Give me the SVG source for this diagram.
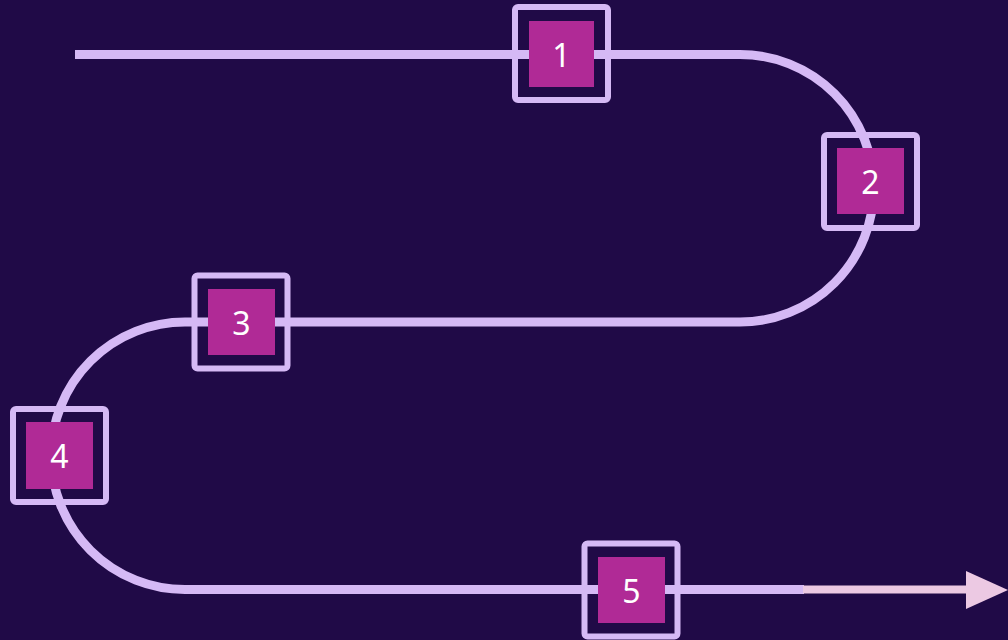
<svg xmlns="http://www.w3.org/2000/svg" width="1008" height="640" viewBox="0 0 1008 640">
<style>
.frame{fill:none;stroke:#d5b9f5;stroke-width:6;}
.sq{fill:#b02a96;}
.lbl{fill:#ffffff;font-family:"Noto Sans","DejaVu Sans",sans-serif;font-size:32px;text-anchor:middle;dominant-baseline:central;}
.track{fill:none;stroke:#d5b9f5;stroke-width:9;}
.tail{fill:none;stroke:#ecc9e3;stroke-width:8;}
</style>
<rect width="1008" height="640" fill="#200a47"/>
<g id="connectors">
<path class="track" d="M75,54.5 H740 A133.75,133.75 0 0 1 740,322 H185 A133.75,133.75 0 0 0 185,589.5 H804"/>
<path class="tail" d="M803,589.5 H968"/>
<polygon points="966,571 1008,590 966,609" fill="#ecc9e3"/>
</g>
<g id="node1">
<rect class="frame" x="515" y="7" width="93" height="93" rx="3"/>
<rect class="sq" x="529" y="21" width="65" height="66"/>
<text class="lbl" x="561.5" y="54">1</text>
</g>
<g id="node2">
<rect class="frame" x="824" y="135" width="93" height="93" rx="3"/>
<rect class="sq" x="837" y="148" width="67" height="66"/>
<text class="lbl" x="870.5" y="181">2</text>
</g>
<g id="node3">
<rect class="frame" x="194.5" y="275.5" width="93" height="93" rx="3"/>
<rect class="sq" x="208" y="289" width="67" height="66"/>
<text class="lbl" x="241.5" y="322">3</text>
</g>
<g id="node4">
<rect class="frame" x="13" y="409" width="93" height="93" rx="3"/>
<rect class="sq" x="26" y="422" width="67" height="67"/>
<text class="lbl" x="59.5" y="455.5">4</text>
</g>
<g id="node5">
<rect class="frame" x="584.5" y="543.5" width="93" height="93" rx="3"/>
<rect class="sq" x="598" y="557" width="67" height="66"/>
<text class="lbl" x="631.5" y="590">5</text>
</g>
</svg>
